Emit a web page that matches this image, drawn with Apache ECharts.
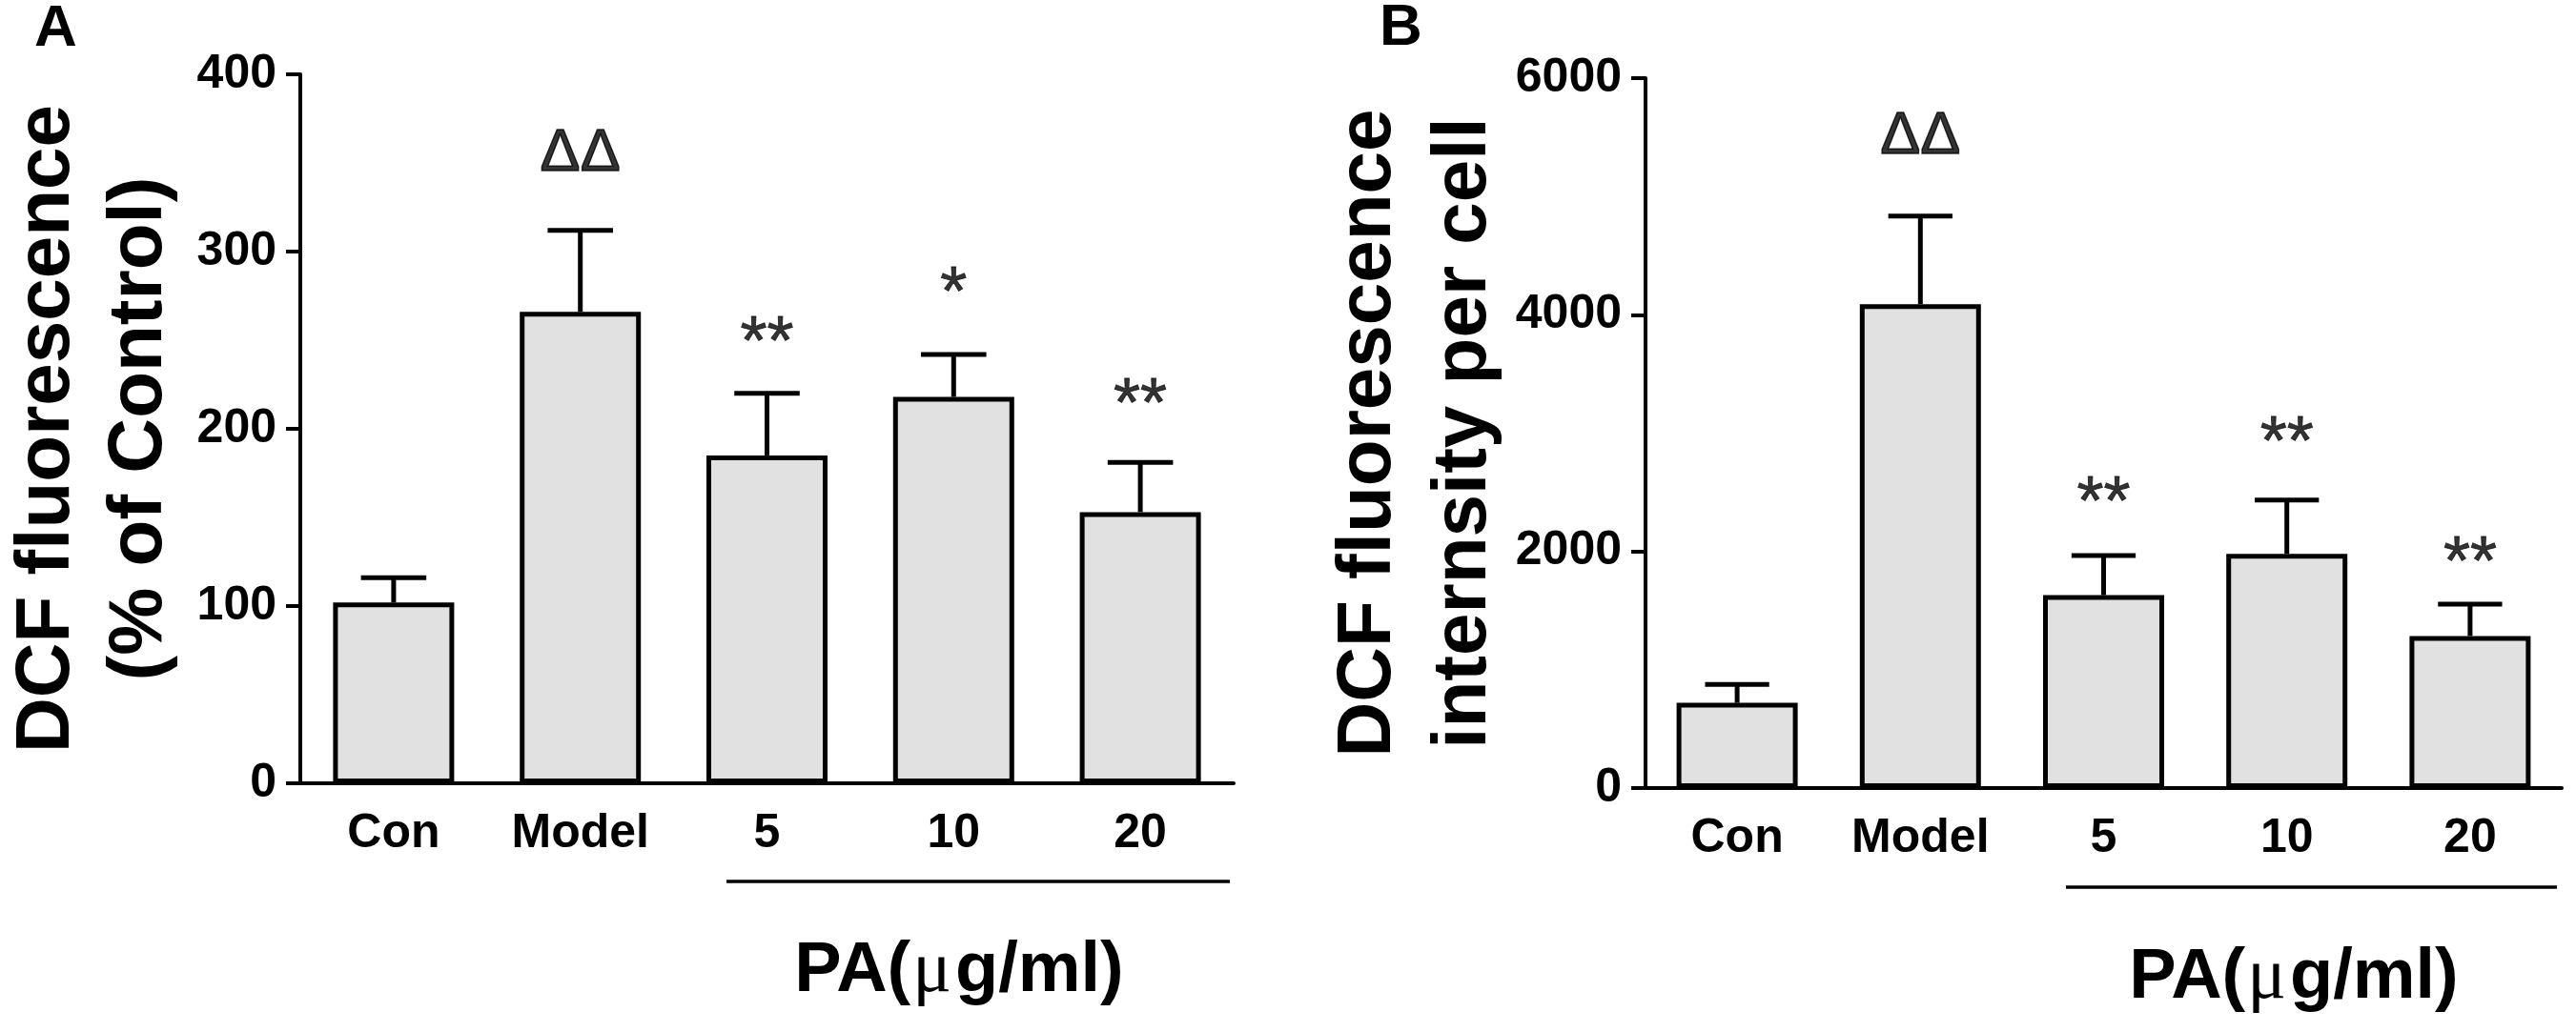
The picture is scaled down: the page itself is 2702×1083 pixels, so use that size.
<!DOCTYPE html>
<html>
<head>
<meta charset="utf-8">
<title>DCF fluorescence</title>
<script src="https://cdn.jsdelivr.net/npm/echarts@6/dist/echarts.min.js"></script>
<style>
html, body { margin: 0; padding: 0; background: #fff; }
#chart { width: 2702px; height: 1083px; }
</style>
</head>
<body>
<div id="chart"></div>
<script>
const categories = ['Con', 'Model', '5', '10', '20'];

// Panel A: DCF fluorescence (% of Control)
const meanA = [102, 266, 185, 218, 153];
const semA = [14, 46, 35, 24, 28];
const marksA = ['', 'ΔΔ', '**', '*', '**'];
const markPosA = [null, 355, 256, 284, 221];
const ticksA = { min: 0, max: 400, interval: 100 };

// Panel B: DCF fluorescence internsity per cell
const meanB = [720, 4090, 1630, 1980, 1285];
const semB = [155, 745, 335, 455, 270];
const marksB = ['', 'ΔΔ', '**', '**', '**'];
const markPosB = [null, 5500, 2520, 3030, 2010];
const ticksB = { min: 0, max: 6000, interval: 2000 };

const FONT = "'Liberation Sans', Arial, Helvetica, sans-serif";
const INK = '#000';

function xAxisFor(gridIndex) {
    return {
        type: 'category',
        gridIndex,
        data: categories,
        axisLine: { lineStyle: { color: INK, width: 4 } },
        axisTick: { alignWithLabel: true, length: 16, lineStyle: { color: INK, width: 4 } },
        axisLabel: { color: INK, fontFamily: FONT, fontWeight: 'bold', fontSize: 50, margin: 28 },
    };
}

function yAxisFor(gridIndex, ticks, name, nameGap, lineHeight) {
    return {
        type: 'value',
        gridIndex,
        min: ticks.min,
        max: ticks.max,
        interval: ticks.interval,
        name,
        nameLocation: 'middle',
        nameRotate: 90,
        nameGap,
        nameTextStyle: {
            color: INK, fontFamily: FONT, fontWeight: 'bold', fontSize: 80, lineHeight,
        },
        axisLine: { show: true, lineStyle: { color: INK, width: 4 } },
        axisTick: { show: true, length: 15, lineStyle: { color: INK, width: 4 } },
        axisLabel: {
            color: INK, fontFamily: FONT, fontWeight: 'bold', fontSize: 50, margin: 25,
            padding: [14, 0, 0, 0],
            formatter: v => String(v),
        },
        splitLine: { show: false },
    };
}

function barSeries(idx, means) {
    return {
        type: 'bar',
        xAxisIndex: idx,
        yAxisIndex: idx,
        data: means,
        barWidth: 127,
        itemStyle: { color: '#e1e1e1', borderColor: INK, borderWidth: 5 },
        z: 2,
    };
}

// upward error bar with a cap
function errorSeries(idx, means, sems) {
    return {
        type: 'custom',
        xAxisIndex: idx,
        yAxisIndex: idx,
        data: means.map((m, i) => [i, m, m + sems[i]]),
        renderItem(params, api) {
            const base = api.coord([api.value(0), api.value(1)]);
            const top = api.coord([api.value(0), api.value(2)]);
            const half = api.size([1, 0])[0] * 0.175;
            const style = { stroke: INK, lineWidth: 5 };
            return {
                type: 'group',
                children: [
                    { type: 'line', shape: { x1: base[0], y1: base[1], x2: top[0], y2: top[1] }, style },
                    { type: 'line', shape: { x1: top[0] - half, y1: top[1], x2: top[0] + half, y2: top[1] }, style },
                ],
            };
        },
        z: 3,
    };
}

function markSeries(idx, marks, pos) {
    const data = [];
    marks.forEach((m, i) => {
        if (!m) return;
        const isDelta = m.indexOf('Δ') >= 0;
        data.push({
            value: [i, pos[i]],
            label: {
                formatter: m,
                fontSize: isDelta ? 63 : 72,
                offset: isDelta ? [0, 0] : [0, 16],
                textBorderWidth: isDelta ? 1.5 : 0.8,
            },
        });
    });
    return {
        type: 'scatter',
        xAxisIndex: idx,
        yAxisIndex: idx,
        symbolSize: 1,
        itemStyle: { color: 'rgba(0,0,0,0)' },
        data,
        label: {
            show: true,
            position: 'inside',
            color: INK,
            fontFamily: FONT,
            fontWeight: 'normal',
            textBorderColor: INK,
        },
        z: 4,
    };
}

function paLabel(cx, cy) {
    return {
        type: 'text',
        x: cx,
        y: cy,
        style: {
            text: '{a|PA(}{m|μ}{a|g/ml)}',
            align: 'center',
            verticalAlign: 'middle',
            rich: {
                a: { fontFamily: FONT, fontWeight: 'bold', fontSize: 74, fill: INK },
                m: { fontFamily: "'Liberation Serif', 'DejaVu Serif', serif", fontWeight: 'normal', fontSize: 76, fill: INK, padding: [0, 4, 0, 2] },
            },
        },
    };
}

const chart = echarts.init(document.getElementById('chart'));

chart.setOption({
    backgroundColor: '#fff',
    animation: false,
    grid: [
        { left: 314, top: 78, width: 980, height: 744 },
        { left: 1726, top: 82, width: 961, height: 745 },
    ],
    xAxis: [xAxisFor(0), xAxisFor(1)],
    yAxis: [
        yAxisFor(0, ticksA, 'DCF fluorescence\n(% of Control)', 120, 97),
        yAxisFor(1, ticksB, 'DCF fluorescence\ninternsity per cell', 137, 100),
    ],
    series: [
        barSeries(0, meanA),
        errorSeries(0, meanA, semA),
        markSeries(0, marksA, markPosA),
        barSeries(1, meanB),
        errorSeries(1, meanB, semB),
        markSeries(1, marksB, markPosB),
    ],
    graphic: [
        { type: 'text', x: 36, y: 31, style: { text: 'A', fontFamily: FONT, fontWeight: 'bold', fontSize: 62, fill: INK, verticalAlign: 'middle' } },
        { type: 'text', x: 1447, y: 30, style: { text: 'B', fontFamily: FONT, fontWeight: 'bold', fontSize: 62, fill: INK, verticalAlign: 'middle' } },
        { type: 'line', shape: { x1: 762, y1: 925, x2: 1290, y2: 925 }, style: { stroke: INK, lineWidth: 3.5 } },
        { type: 'line', shape: { x1: 2167, y1: 931, x2: 2682, y2: 931 }, style: { stroke: INK, lineWidth: 3.5 } },
        paLabel(1006, 1020),
        paLabel(2406, 1027),
    ],
});

window.addEventListener('resize', () => chart.resize());
</script>
</body>
</html>
